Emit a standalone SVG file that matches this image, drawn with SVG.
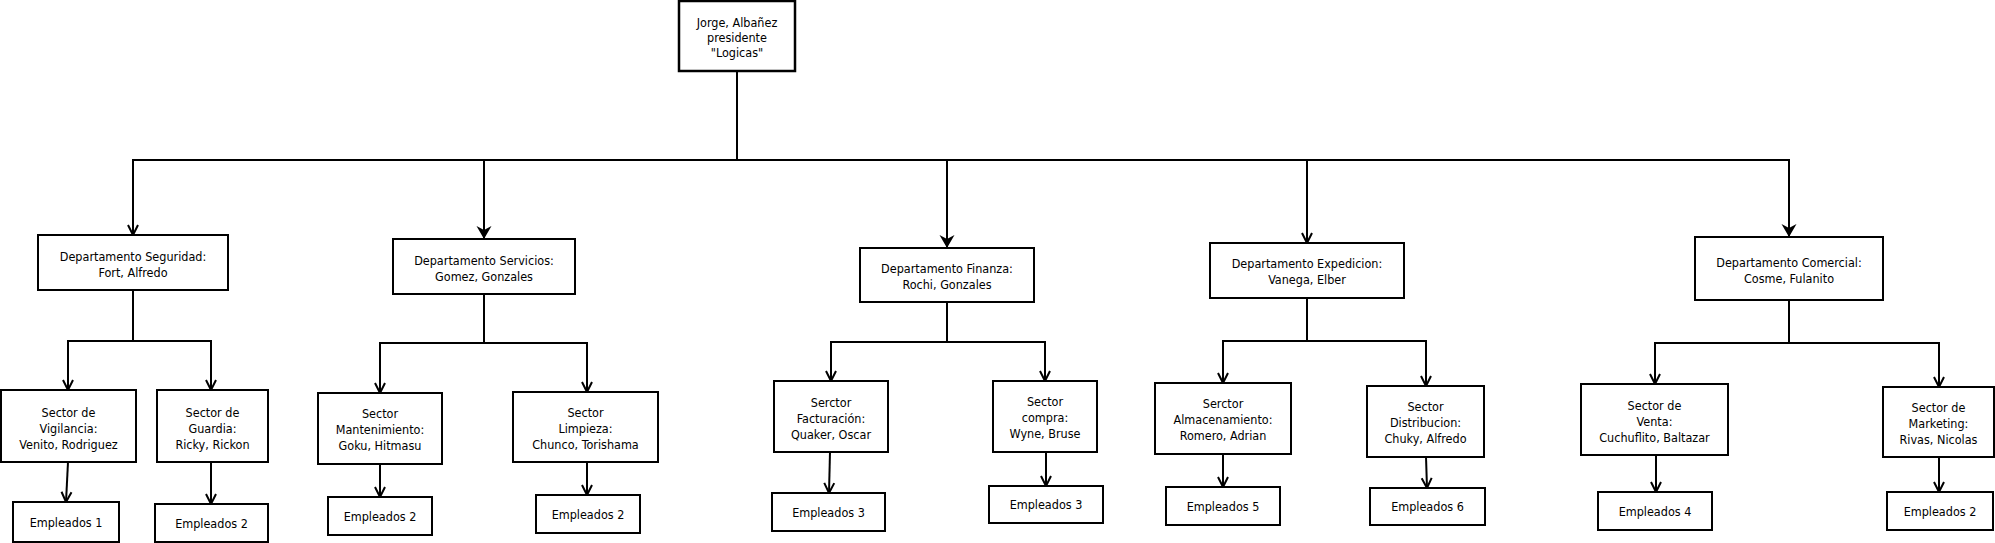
<svg xmlns="http://www.w3.org/2000/svg" width="1995" height="543" viewBox="0 0 1995 543">
<style>
  .box { fill: #ffffff; stroke: #000000; stroke-width: 2; }
  .top { stroke-width: 2.5; }
  .lbl { font-family: "DejaVu Sans Condensed", "DejaVu Sans", sans-serif; font-stretch: condensed; font-size: 12.5px; fill: #000000; text-anchor: middle; dominant-baseline: central; }
  .con { fill: none; stroke: #000000; stroke-width: 2; }
  .open { marker-end: url(#openArrow); }
  .solid { marker-end: url(#solidArrow); }
</style>
<defs>
  <marker id="openArrow" markerUnits="userSpaceOnUse" viewBox="-12 -7 14 14" refX="0" refY="0" markerWidth="14" markerHeight="14" orient="auto">
    <path d="M-10,-5 L0,0 L-10,5" fill="none" stroke="#000000" stroke-width="2"/>
  </marker>
  <marker id="solidArrow" markerUnits="userSpaceOnUse" viewBox="-15 -9 17 18" refX="0" refY="0" markerWidth="17" markerHeight="18" orient="auto">
    <path d="M-13,-7.5 L0,0 L-13,7.5 L-9,0 Z" fill="#000000"/>
  </marker>
</defs>
<rect width="1995" height="543" fill="#ffffff"/>

<g id="connectors">
  <path class="con open" d="M737 71 V160 H133 V235"/>
  <path class="con solid" d="M737 71 V160 H484 V239"/>
  <path class="con solid" d="M737 71 V160 H947 V248"/>
  <path class="con open" d="M737 71 V160 H1307 V243"/>
  <path class="con solid" d="M737 71 V160 H1789 V237"/>

  <path class="con open" d="M133 290 V341 H68 V390"/>
  <path class="con open" d="M133 290 V341 H211 V390"/>
  <path class="con open" d="M484 294 V343 H380 V393"/>
  <path class="con open" d="M484 294 V343 H587 V392"/>
  <path class="con open" d="M947 302 V342 H831 V381"/>
  <path class="con open" d="M947 302 V342 H1045 V381"/>
  <path class="con open" d="M1307 298 V341 H1223 V383"/>
  <path class="con open" d="M1307 298 V341 H1426 V386"/>
  <path class="con open" d="M1789 300 V343 H1655 V384"/>
  <path class="con open" d="M1789 300 V343 H1939 V387"/>

  <path class="con open" d="M68 462 L66 502"/>
  <path class="con open" d="M211 462 V504"/>
  <path class="con open" d="M380 464 V497"/>
  <path class="con open" d="M587 462 V495"/>
  <path class="con open" d="M830 452 L829 493"/>
  <path class="con open" d="M1046 452 V486"/>
  <path class="con open" d="M1223 454 V487"/>
  <path class="con open" d="M1426 457 L1427 488"/>
  <path class="con open" d="M1656 455 V492"/>
  <path class="con open" d="M1939 457 V492"/>
</g>

<g id="presidente">
  <rect class="box top" x="679" y="1" width="116" height="70"/>
  <text class="lbl" x="737" y="22">Jorge, Albañez</text>
  <text class="lbl" x="737" y="37">presidente</text>
  <text class="lbl" x="737" y="52">"Logicas"</text>
</g>

<g id="dep-seguridad">
  <rect class="box" x="38" y="235" width="190" height="55"/>
  <text class="lbl" x="133" y="256">Departamento Seguridad:</text>
  <text class="lbl" x="133" y="272">Fort, Alfredo</text>
</g>
<g id="dep-servicios">
  <rect class="box" x="393" y="239" width="182" height="55"/>
  <text class="lbl" x="484" y="260">Departamento Servicios:</text>
  <text class="lbl" x="484" y="276">Gomez, Gonzales</text>
</g>
<g id="dep-finanza">
  <rect class="box" x="860" y="248" width="174" height="54"/>
  <text class="lbl" x="947" y="268">Departamento Finanza:</text>
  <text class="lbl" x="947" y="284">Rochi, Gonzales</text>
</g>
<g id="dep-expedicion">
  <rect class="box" x="1210" y="243" width="194" height="55"/>
  <text class="lbl" x="1307" y="263">Departamento Expedicion:</text>
  <text class="lbl" x="1307" y="279">Vanega, Elber</text>
</g>
<g id="dep-comercial">
  <rect class="box" x="1695" y="237" width="188" height="63"/>
  <text class="lbl" x="1789" y="262">Departamento Comercial:</text>
  <text class="lbl" x="1789" y="278">Cosme, Fulanito</text>
</g>

<g id="sec-vigilancia">
  <rect class="box" x="1" y="390" width="135" height="72"/>
  <text class="lbl" x="68.5" y="412">Sector de</text>
  <text class="lbl" x="68.5" y="428">Vigilancia:</text>
  <text class="lbl" x="68.5" y="444">Venito, Rodriguez</text>
</g>
<g id="sec-guardia">
  <rect class="box" x="157" y="390" width="111" height="72"/>
  <text class="lbl" x="212.5" y="412">Sector de</text>
  <text class="lbl" x="212.5" y="428">Guardia:</text>
  <text class="lbl" x="212.5" y="444">Ricky, Rickon</text>
</g>
<g id="sec-mantenimiento">
  <rect class="box" x="318" y="393" width="124" height="71"/>
  <text class="lbl" x="380" y="413">Sector</text>
  <text class="lbl" x="380" y="429">Mantenimiento:</text>
  <text class="lbl" x="380" y="445">Goku, Hitmasu</text>
</g>
<g id="sec-limpieza">
  <rect class="box" x="513" y="392" width="145" height="70"/>
  <text class="lbl" x="585.5" y="412">Sector</text>
  <text class="lbl" x="585.5" y="428">Limpieza:</text>
  <text class="lbl" x="585.5" y="444">Chunco, Torishama</text>
</g>
<g id="sec-facturacion">
  <rect class="box" x="774" y="381" width="114" height="71"/>
  <text class="lbl" x="831" y="402">Serctor</text>
  <text class="lbl" x="831" y="418">Facturación:</text>
  <text class="lbl" x="831" y="434">Quaker, Oscar</text>
</g>
<g id="sec-compra">
  <rect class="box" x="993" y="381" width="104" height="71"/>
  <text class="lbl" x="1045" y="401">Sector</text>
  <text class="lbl" x="1045" y="417">compra:</text>
  <text class="lbl" x="1045" y="433">Wyne, Bruse</text>
</g>
<g id="sec-almacenamiento">
  <rect class="box" x="1155" y="383" width="136" height="71"/>
  <text class="lbl" x="1223" y="403">Serctor</text>
  <text class="lbl" x="1223" y="419">Almacenamiento:</text>
  <text class="lbl" x="1223" y="435">Romero, Adrian</text>
</g>
<g id="sec-distribucion">
  <rect class="box" x="1367" y="386" width="117" height="71"/>
  <text class="lbl" x="1425.5" y="406">Sector</text>
  <text class="lbl" x="1425.5" y="422">Distribucion:</text>
  <text class="lbl" x="1425.5" y="438">Chuky, Alfredo</text>
</g>
<g id="sec-venta">
  <rect class="box" x="1581" y="384" width="147" height="71"/>
  <text class="lbl" x="1654.5" y="405">Sector de</text>
  <text class="lbl" x="1654.5" y="421">Venta:</text>
  <text class="lbl" x="1654.5" y="437">Cuchuflito, Baltazar</text>
</g>
<g id="sec-marketing">
  <rect class="box" x="1883" y="387" width="111" height="70"/>
  <text class="lbl" x="1938.5" y="407">Sector de</text>
  <text class="lbl" x="1938.5" y="423">Marketing:</text>
  <text class="lbl" x="1938.5" y="439">Rivas, Nicolas</text>
</g>

<g id="emp-vigilancia">
  <rect class="box" x="13" y="502" width="106" height="40"/>
  <text class="lbl" x="66" y="522">Empleados 1</text>
</g>
<g id="emp-guardia">
  <rect class="box" x="155" y="504" width="113" height="38"/>
  <text class="lbl" x="211.5" y="523">Empleados 2</text>
</g>
<g id="emp-mantenimiento">
  <rect class="box" x="328" y="497" width="104" height="38"/>
  <text class="lbl" x="380" y="516">Empleados 2</text>
</g>
<g id="emp-limpieza">
  <rect class="box" x="536" y="495" width="104" height="38"/>
  <text class="lbl" x="588" y="514">Empleados 2</text>
</g>
<g id="emp-facturacion">
  <rect class="box" x="772" y="493" width="113" height="38"/>
  <text class="lbl" x="828.5" y="512">Empleados 3</text>
</g>
<g id="emp-compra">
  <rect class="box" x="989" y="486" width="114" height="37"/>
  <text class="lbl" x="1046" y="504.5">Empleados 3</text>
</g>
<g id="emp-almacenamiento">
  <rect class="box" x="1166" y="487" width="114" height="38"/>
  <text class="lbl" x="1223" y="506">Empleados 5</text>
</g>
<g id="emp-distribucion">
  <rect class="box" x="1370" y="488" width="115" height="37"/>
  <text class="lbl" x="1427.5" y="506.5">Empleados 6</text>
</g>
<g id="emp-venta">
  <rect class="box" x="1598" y="492" width="114" height="38"/>
  <text class="lbl" x="1655" y="511">Empleados 4</text>
</g>
<g id="emp-marketing">
  <rect class="box" x="1887" y="492" width="106" height="38"/>
  <text class="lbl" x="1940" y="511">Empleados 2</text>
</g>
</svg>
